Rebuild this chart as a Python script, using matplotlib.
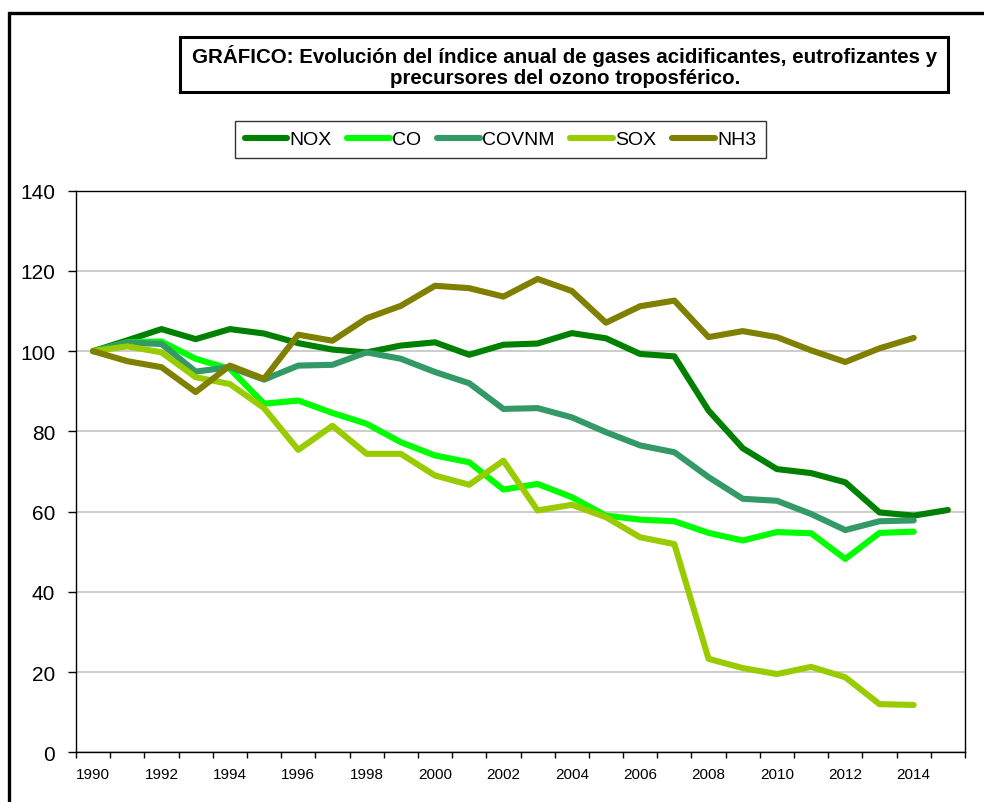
import numpy as np
import matplotlib
matplotlib.use("Agg")
import matplotlib.pyplot as plt
from matplotlib.patches import Rectangle

plt.rcParams['font.family'] = ['Liberation Sans', 'DejaVu Sans']

# años de la serie
years = list(range(1990, 2016))

# índices anuales (1990 = 100)
nox = [100, 102.7, 105.5, 103.0, 105.5, 104.4, 102.0, 100.4, 99.7, 101.4, 102.2,
       99.1, 101.6, 101.9, 104.5, 103.2, 99.3, 98.7, 85.2, 75.8, 70.6, 69.6, 67.3,
       59.8, 59.0, 60.4]
co = [100, 102.2, 102.4, 98.1, 95.6, 86.9, 87.7, 84.6, 81.9, 77.3, 74.0,
      72.3, 65.5, 66.9, 63.6, 59.0, 58.0, 57.6, 54.7, 52.8, 54.9, 54.6, 48.2,
      54.7, 55.0, None]
covnm = [100, 102.1, 101.8, 94.9, 96.0, 92.9, 96.4, 96.6, 99.7, 98.1, 94.8,
         92.0, 85.6, 85.8, 83.5, 79.8, 76.5, 74.8, 68.6, 63.2, 62.7, 59.4, 55.4,
         57.6, 57.8, None]
sox = [100, 101.2, 99.7, 93.5, 91.8, 85.8, 75.4, 81.4, 74.4, 74.4, 69.0,
       66.7, 72.7, 60.3, 61.7, 58.6, 53.6, 51.9, 23.3, 21.0, 19.5, 21.3, 18.7,
       12.0, 11.8, None]
nh3 = [100, 97.5, 96.0, 89.8, 96.4, 93.1, 104.1, 102.6, 108.2, 111.3, 116.3,
       115.7, 113.6, 118.0, 115.0, 107.1, 111.2, 112.6, 103.5, 105.0, 103.5,
       100.2, 97.3, 100.7, 103.3, None]

labels = ['NOX', 'CO', 'COVNM', 'SOX', 'NH3']
colors = ['#008000', '#00FF00', '#339966', '#99CC00', '#808000']
series = [nox, co, covnm, sox, nh3]

fig = plt.figure(figsize=(9.84, 8.03), dpi=100)
ax = fig.add_axes([76 / 984, 1 - 753.3 / 803, 889 / 984, (753.3 - 191.7) / 803])

x = np.arange(len(years))
for vals, lab, col in zip(series, labels, colors):
    v = np.array([np.nan if y is None else y for y in vals], dtype=float)
    ax.plot(x, v, color=col, lw=4.4, label=lab,
            solid_capstyle='round', solid_joinstyle='round')

ax.set_xlim(-0.5, len(years) - 0.5)
ax.set_ylim(0, 140)
ax.set_yticks(np.arange(0, 141, 20))
ax.yaxis.grid(True, color='#c8c8c8', lw=1.3)
ax.set_axisbelow(True)
ax.tick_params(axis='y', labelsize=15, length=6, width=1, pad=9)

# marcas entre categorías y etiquetas cada dos años
ax.set_xticks(np.arange(-0.5, len(years), 1))
ax.set_xticklabels([])
ax.tick_params(axis='x', which='major', length=4, width=1)
ax.set_xticks(x[::2], minor=True)
ax.set_xticklabels([str(y) for y in years[::2]], minor=True)
ax.tick_params(axis='x', which='minor', length=0, labelsize=11, pad=10.5)

for s in ax.spines.values():
    s.set_linewidth(1.0)
    s.set_color('black')

# marco exterior del gráfico
fig.add_artist(Rectangle((8.5 / 984, -0.1), 1.2, 1.1 - 13.5 / 803,
                         transform=fig.transFigure, fill=False,
                         lw=2.4, ec='black'))

# caja del título
fig.add_artist(Rectangle((180 / 984, 1 - 93 / 803), 768 / 984, 55.3 / 803,
                         transform=fig.transFigure, fill=False,
                         lw=2.2, ec='black'))
fig.text(565 / 984, 1 - 66.5 / 803,
         'GRÁFICO: Evolución del índice anual de gases acidificantes, eutrofizantes y\n'
         'precursores del ozono troposférico.',
         ha='center', va='center', fontsize=14.8, fontweight='bold',
         multialignment='center', linespacing=1.12)

leg = fig.legend(loc='center', bbox_to_anchor=(500.3 / 984, 1 - 140.5 / 803),
                 ncol=5, fontsize=14, frameon=True, fancybox=False,
                 handlelength=2.2, handletextpad=0.1, columnspacing=0.82,
                 borderpad=0.5, borderaxespad=0)
leg.get_frame().set_edgecolor('black')
leg.get_frame().set_linewidth(1.0)

fig.savefig('out.png', dpi=100)
